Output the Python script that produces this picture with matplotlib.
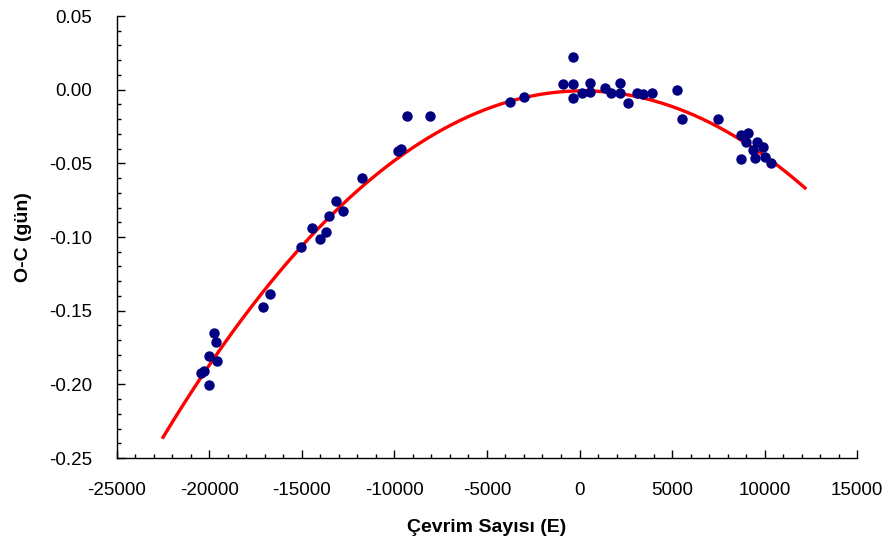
import numpy as np
import matplotlib.pyplot as plt
from matplotlib.ticker import MultipleLocator, FormatStrFormatter

plt.rcParams['font.family'] = ['Liberation Sans', 'DejaVu Sans']
plt.rcParams['axes.unicode_minus'] = False

# gözlenen minimum zamanları: çevrim sayısı ve O-C (gün)
cevrim = [-20450, -20300, -20030, -19760, -19650, -19600, -20030,
          -17100, -16730,
          -15050, -14460, -14030, -13700, -13540, -13160, -12780, -11760,
          -9800, -9650, -9330, -8080,
          -3760, -3000,
          -890, -350, -350, -350, 135, 570, 570, 1380, 1700, 2190, 2190,
          2620, 3110, 3430, 3920, 5270, 5540,
          7490, 8730, 9110, 9000, 9590, 9380, 9920, 8730, 9480, 10030, 10350]
oc = [-0.1925, -0.1910, -0.1810, -0.1650, -0.1710, -0.1840, -0.2005,
      -0.1475, -0.1390,
      -0.1068, -0.0939, -0.1014, -0.0966, -0.0857, -0.0756, -0.0823, -0.0600,
      -0.0415, -0.0400, -0.0179, -0.0179,
      -0.0086, -0.0050,
      0.0039, 0.0039, 0.0222, -0.0056, -0.0022, 0.0045, -0.0016, 0.0011,
      -0.0023, 0.0045, -0.0023, -0.0090, -0.0022, -0.0030, -0.0022,
      -0.0002, -0.0199,
      -0.0199, -0.0308, -0.0294, -0.0355, -0.0355, -0.0410, -0.0390,
      -0.0470, -0.0464, -0.0457, -0.0497]

# ikinci dereceden fit katsayıları (c0 + c1*E + c2*E^2) ve aralığı
fit_katsayi = [-0.0008, 1.62e-7, -4.568e-10]
fit_aralik = [-22510, 12190]

fig = plt.figure(figsize=(8.93, 5.47), dpi=100)
ax = fig.add_axes([0.131, 0.1627, 0.8287, 0.808])

E = np.linspace(fit_aralik[0], fit_aralik[1], 400)
ax.plot(E, np.polyval(fit_katsayi[::-1], E), color='#ff0000', linewidth=2.4, zorder=2)
ax.plot(cevrim, oc, 'o', color='#000080', markersize=7.5, markeredgewidth=0, zorder=3)

ax.set_xlim(-25000, 15000)
ax.set_ylim(-0.25, 0.05)
ax.xaxis.set_major_locator(MultipleLocator(5000))
ax.xaxis.set_minor_locator(MultipleLocator(1000))
ax.yaxis.set_major_locator(MultipleLocator(0.05))
ax.yaxis.set_minor_locator(MultipleLocator(0.01))
ax.yaxis.set_major_formatter(FormatStrFormatter('%.2f'))

ax.spines['top'].set_visible(False)
ax.spines['right'].set_visible(False)
for s in ['left', 'bottom']:
    ax.spines[s].set_linewidth(1.0)

ax.tick_params(which='major', direction='in', length=5.5, width=1.0, labelsize=13.5)
ax.tick_params(which='minor', direction='in', length=3, width=1.0)
ax.tick_params(axis='x', which='major', pad=17)
ax.tick_params(axis='y', which='major', pad=18)

ax.set_xlabel('Çevrim Sayısı (E)', fontsize=14, fontweight='bold', labelpad=15)
ax.set_ylabel('O-C (gün)', fontsize=14, fontweight='bold', labelpad=12)

plt.savefig('out.png', dpi=100)
